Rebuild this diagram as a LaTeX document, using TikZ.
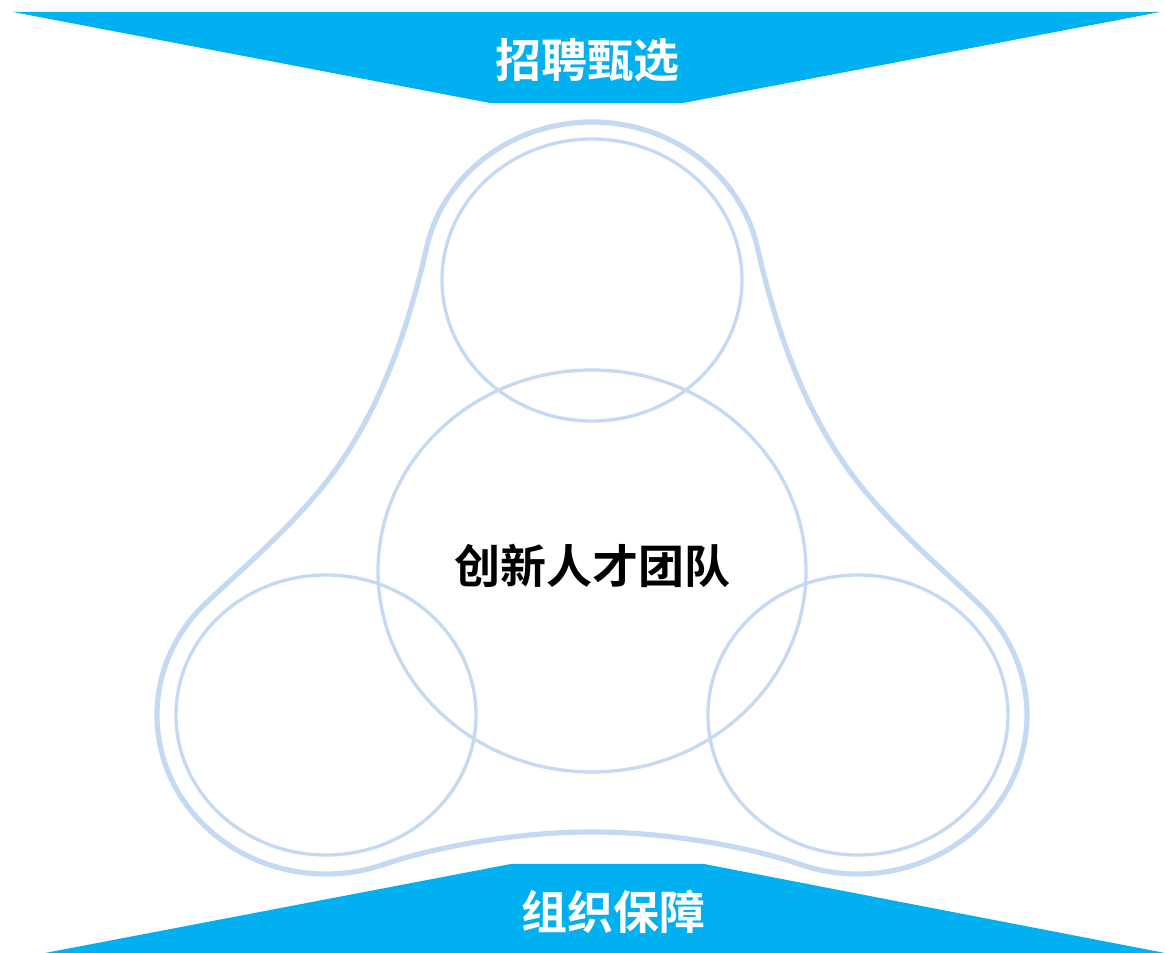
\documentclass[tikz,border=0pt]{standalone}
\usepackage{fontspec}
\newfontfamily\cjk[BoldFont={Noto Sans CJK SC Bold}]{Noto Sans CJK SC}
\definecolor{ringblue}{RGB}{198,217,243}
\definecolor{bannerblue}{RGB}{0,176,240}
\begin{document}
\begin{tikzpicture}[x=1pt,y=1pt,
  ring/.style={draw=ringblue,line width=3.3pt},
  outerring/.style={draw=ringblue,line width=5.2pt},
  banner/.style={fill=bannerblue,draw=none},
  bannertext/.style={font=\cjk\bfseries\fontsize{46}{50}\selectfont,text=white,inner sep=0pt},
  maintext/.style={font=\cjk\bfseries\fontsize{46}{50}\selectfont,text=black,inner sep=0pt}]
\useasboundingbox (0,0) rectangle (1165,953);
\fill[white] (0,0) rectangle (1165,953);
% outer outline
\draw[outerring] (426.7,705.8)
  .. controls (409.4,629.7) and (384.4,554.3) .. (340.3,490)
  .. controls (304.1,437.3) and (253.1,394.2) .. (206.5,350.4)
  arc[start angle=135, end angle=290, x radius=169, y radius=159]
  .. controls (431.1,104.8) and (512,121) .. (592,121)
  .. controls (672,121) and (752.9,104.8) .. (800.2,88.6)
  arc[start angle=250, end angle=405, x radius=169, y radius=159]
  .. controls (930.9,394.2) and (879.9,437.3) .. (843.7,490)
  .. controls (799.6,554.3) and (774.6,629.7) .. (757.3,705.8)
  arc[start angle=12, end angle=168, x radius=169, y radius=158] -- cycle;
% circles
\draw[ring] (592,673) ellipse[x radius=150, y radius=141];
\draw[ring] (592,382) ellipse[x radius=214, y radius=201];
\draw[ring] (326,238) ellipse[x radius=150, y radius=140];
\draw[ring] (858,238) ellipse[x radius=150, y radius=140];
% banners
\fill[banner] (13,941) -- (1160,941) -- (683,850) -- (490,850) -- cycle;
\fill[banner] (511,89) -- (704,89) -- (1165,0) -- (45,0) -- cycle;
% texts
\node[bannertext] (top) at (587,893) {招聘甄选};
\node[bannertext] (bottom) at (613,41) {组织保障};
\node[maintext] (center) at (592,387) {创新人才团队};
\end{tikzpicture}
\end{document}
